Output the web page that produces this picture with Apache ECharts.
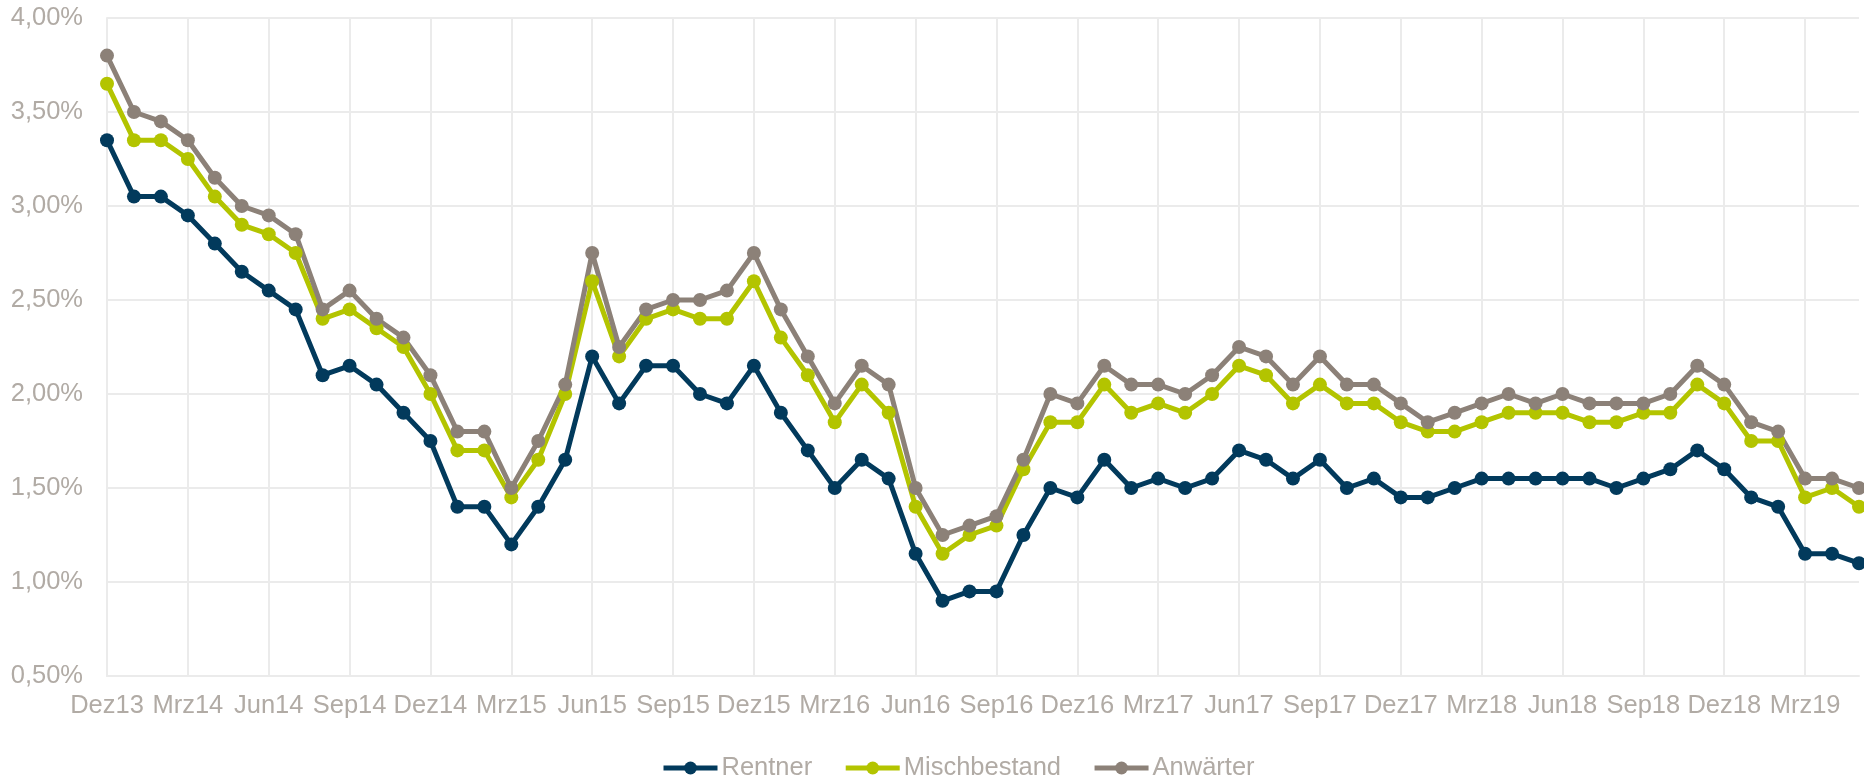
<!DOCTYPE html>
<html>
<head>
<meta charset="utf-8">
<script src="https://cdn.jsdelivr.net/npm/echarts@6/dist/echarts.min.js"></script>
<style>
html,body{margin:0;padding:0;background:#fff;}
#chart{width:1864px;height:781px;}
</style>
</head>
<body>
<div id="chart"></div>
<script>
const months = [
  'Dez13','Jan14','Feb14','Mrz14','Apr14','Mai14','Jun14','Jul14','Aug14','Sep14','Okt14','Nov14',
  'Dez14','Jan15','Feb15','Mrz15','Apr15','Mai15','Jun15','Jul15','Aug15','Sep15','Okt15','Nov15',
  'Dez15','Jan16','Feb16','Mrz16','Apr16','Mai16','Jun16','Jul16','Aug16','Sep16','Okt16','Nov16',
  'Dez16','Jan17','Feb17','Mrz17','Apr17','Mai17','Jun17','Jul17','Aug17','Sep17','Okt17','Nov17',
  'Dez17','Jan18','Feb18','Mrz18','Apr18','Mai18','Jun18','Jul18','Aug18','Sep18','Okt18','Nov18',
  'Dez18','Jan19','Feb19','Mrz19','Apr19','Mai19'
];

const rentner = [
  3.35,3.05,3.05,2.95,2.80,2.65,2.55,2.45,2.10,2.15,2.05,1.90,
  1.75,1.40,1.40,1.20,1.40,1.65,2.20,1.95,2.15,2.15,2.00,1.95,
  2.15,1.90,1.70,1.50,1.65,1.55,1.15,0.90,0.95,0.95,1.25,1.50,
  1.45,1.65,1.50,1.55,1.50,1.55,1.70,1.65,1.55,1.65,1.50,1.55,
  1.45,1.45,1.50,1.55,1.55,1.55,1.55,1.55,1.50,1.55,1.60,1.70,
  1.60,1.45,1.40,1.15,1.15,1.10
];

const mischbestand = [
  3.65,3.35,3.35,3.25,3.05,2.90,2.85,2.75,2.40,2.45,2.35,2.25,
  2.00,1.70,1.70,1.45,1.65,2.00,2.60,2.20,2.40,2.45,2.40,2.40,
  2.60,2.30,2.10,1.85,2.05,1.90,1.40,1.15,1.25,1.30,1.60,1.85,
  1.85,2.05,1.90,1.95,1.90,2.00,2.15,2.10,1.95,2.05,1.95,1.95,
  1.85,1.80,1.80,1.85,1.90,1.90,1.90,1.85,1.85,1.90,1.90,2.05,
  1.95,1.75,1.75,1.45,1.50,1.40
];

const anwaerter = [
  3.80,3.50,3.45,3.35,3.15,3.00,2.95,2.85,2.45,2.55,2.40,2.30,
  2.10,1.80,1.80,1.50,1.75,2.05,2.75,2.25,2.45,2.50,2.50,2.55,
  2.75,2.45,2.20,1.95,2.15,2.05,1.50,1.25,1.30,1.35,1.65,2.00,
  1.95,2.15,2.05,2.05,2.00,2.10,2.25,2.20,2.05,2.20,2.05,2.05,
  1.95,1.85,1.90,1.95,2.00,1.95,2.00,1.95,1.95,1.95,2.00,2.15,
  2.05,1.85,1.80,1.55,1.55,1.50
];

const seriesNames = ['Rentner','Mischbestand','Anwärter'];
const seriesColors = ['#023a5c','#b3c400','#8c8178'];
const textColor = '#b1aba5';
const gridColor = '#ebebeb';
const fontFamily = '"Liberation Sans", Arial, sans-serif';

const chart = echarts.init(document.getElementById('chart'), null, {renderer:'canvas'});

function mkSeries(name, data, color){
  return {
    name: name,
    type: 'line',
    data: data,
    symbol: 'circle',
    symbolSize: 14,
    showSymbol: true,
    lineStyle: {width: 5, color: color},
    itemStyle: {color: color},
    emphasis: {disabled: true},
    animation: false
  };
}

chart.setOption({
  animation: false,
  color: seriesColors,
  grid: {left: 107, right: 5, top: 18, bottom: 105, containLabel: false},
  legend: {
    data: seriesNames,
    left: 656,
    top: 750,
    itemWidth: 54,
    itemHeight: 16,
    itemGap: 31,
    lineStyle: {width: 5},
    textStyle: {color: textColor, fontSize: 25.5, fontFamily: fontFamily, padding: [0,0,0,-1]},
    selectedMode: false
  },
  xAxis: {
    type: 'category',
    data: months,
    boundaryGap: false,
    axisLine: {show: true, lineStyle: {color: gridColor, width: 2}},
    axisTick: {show: false},
    axisLabel: {
      interval: 2,
      color: textColor,
      fontSize: 25.5,
      fontFamily: fontFamily,
      margin: 17
    },
    splitLine: {show: true, interval: 2, lineStyle: {color: gridColor, width: 2}}
  },
  yAxis: {
    type: 'value',
    min: 0.5,
    max: 4.0,
    interval: 0.5,
    axisLine: {show: true, lineStyle: {color: gridColor, width: 2}},
    axisTick: {show: false},
    axisLabel: {
      color: textColor,
      fontSize: 25.5,
      fontFamily: fontFamily,
      margin: 24,
      formatter: function(v){ return v.toFixed(2).replace('.', ',') + '%'; }
    },
    splitLine: {show: true, lineStyle: {color: gridColor, width: 2}}
  },
  series: [
    mkSeries(seriesNames[0], rentner, seriesColors[0]),
    mkSeries(seriesNames[1], mischbestand, seriesColors[1]),
    mkSeries(seriesNames[2], anwaerter, seriesColors[2])
  ]
});
</script>
</body>
</html>
